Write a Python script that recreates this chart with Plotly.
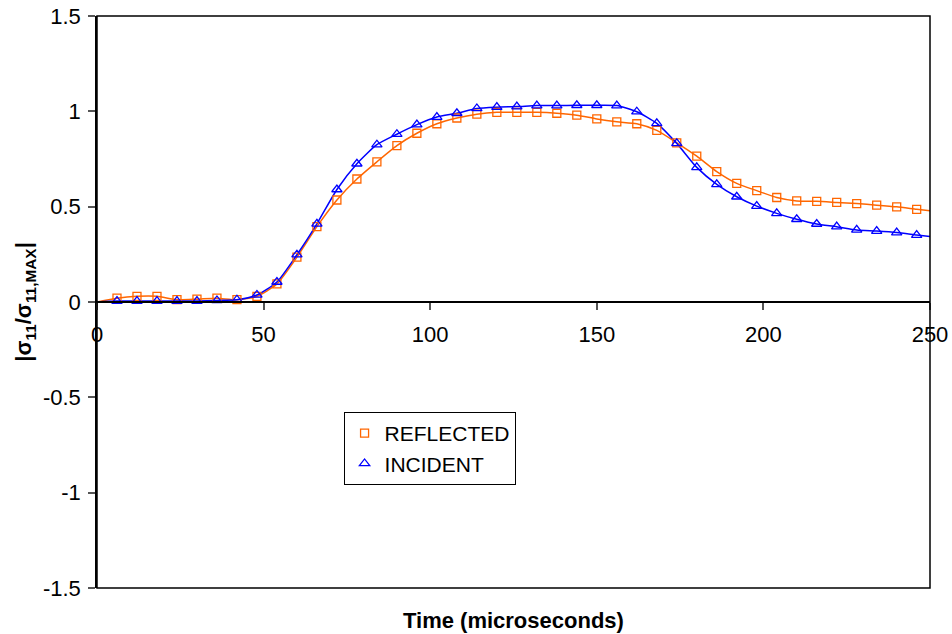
import plotly.graph_objects as go

# ---- data ----
time_markers = [6, 12, 18, 24, 30, 36, 42, 48, 54, 60, 66, 72, 78, 84, 90, 96, 102,
                108, 114, 120, 126, 132, 138, 144, 150, 156, 162, 168, 174, 180, 186,
                192, 198, 204, 210, 216, 222, 228, 234, 240, 246]

reflected = [0.02, 0.03, 0.03, 0.012, 0.015, 0.02, 0.012, 0.03, 0.095, 0.235, 0.395,
             0.535, 0.645, 0.735, 0.82, 0.885, 0.935, 0.965, 0.985, 0.995, 0.995,
             0.995, 0.99, 0.98, 0.96, 0.945, 0.935, 0.90, 0.835, 0.765, 0.684,
             0.622, 0.584, 0.548, 0.53, 0.528, 0.522, 0.516, 0.508, 0.499, 0.486]

incident = [0.005, 0.005, 0.005, 0.005, 0.005, 0.008, 0.012, 0.037, 0.105, 0.248, 0.41,
            0.59, 0.725, 0.825, 0.88, 0.93, 0.97, 0.99, 1.015, 1.022, 1.025,
            1.03, 1.03, 1.032, 1.032, 1.03, 0.998, 0.937, 0.832, 0.706, 0.617,
            0.552, 0.503, 0.465, 0.434, 0.409, 0.395, 0.378, 0.372, 0.364, 0.351]

# line traces run from t=0 to t=250
time_start, time_end = 0, 250
reflected_start, reflected_end = 0.0, 0.478
incident_start, incident_end = 0.0, 0.343

x_ticks = [0, 50, 100, 150, 200, 250]
x_tick_labels = ["0", "50", "100", "150", "200", "250"]
y_ticks = [1.5, 1.0, 0.5, 0.0, -0.5, -1.0, -1.5]
y_tick_labels = ["1.5", "1", "0.5", "0", "-0.5", "-1", "-1.5"]

ORANGE = "#FF6600"
BLUE = "#0000FF"
FONT = "Arial, Liberation Sans, sans-serif"

fig = go.Figure()

fig.add_trace(go.Scatter(
    x=[time_start] + time_markers + [time_end],
    y=[reflected_start] + reflected + [reflected_end],
    mode="lines", line=dict(color=ORANGE, width=1.5, shape="spline", smoothing=0.6),
    showlegend=False, hoverinfo="skip"))
fig.add_trace(go.Scatter(
    x=[time_start] + time_markers + [time_end],
    y=[incident_start] + incident + [incident_end],
    mode="lines", line=dict(color=BLUE, width=1.5, shape="spline", smoothing=0.6),
    showlegend=False, hoverinfo="skip"))
fig.add_trace(go.Scatter(
    x=time_markers, y=reflected, mode="markers", name="REFLECTED",
    marker=dict(symbol="square-open", size=8, color=ORANGE, line=dict(width=1.3, color=ORANGE))))
fig.add_trace(go.Scatter(
    x=time_markers, y=incident, mode="markers", name="INCIDENT",
    marker=dict(symbol="triangle-up-open", size=9, color=BLUE, line=dict(width=1.3, color=BLUE))))

fig.update_layout(
    width=952, height=634,
    margin=dict(l=97, r=22, t=16, b=46),
    paper_bgcolor="white", plot_bgcolor="white",
    font=dict(family=FONT, size=22, color="black"),
    showlegend=True,
    legend=dict(x=0.296, y=0.3077, xanchor="left", yanchor="top",
                bordercolor="black", borderwidth=1, bgcolor="white",
                font=dict(size=21, family=FONT), tracegroupgap=0),
    xaxis=dict(range=[0, 250], tickvals=x_ticks, ticktext=x_tick_labels,
               showline=True, linecolor="black", linewidth=1.5,
               ticks="outside", ticklen=7, tickcolor="#555", tickwidth=1.5,
               anchor="free", position=0.5, showgrid=False, zeroline=False,
               ticklabelstandoff=6, tickfont=dict(size=22), automargin=False),
    yaxis=dict(range=[-1.5, 1.5], tickvals=y_ticks, ticktext=y_tick_labels,
               showline=True, linecolor="black", linewidth=1.5,
               ticks="outside", ticklen=7, tickcolor="#555", tickwidth=1.5,
               showgrid=False, zeroline=False, tickfont=dict(size=22),
               ticklabelstandoff=3, automargin=False,
               title=dict(text="<b>|σ<sub>11</sub>/σ<sub>11,MAX</sub>|</b>",
                          font=dict(size=22), standoff=5)),
    shapes=[dict(type="rect", xref="paper", yref="paper", x0=0, x1=1, y0=0, y1=1,
                 line=dict(color="black", width=1.5), layer="above")],
    annotations=[dict(text="<b>Time (microseconds)</b>", xref="paper", yref="paper",
                      x=0.5, y=-0.056, xanchor="center", yanchor="middle",
                      showarrow=False, font=dict(size=22))],
)

# remove the default 8 px page margin so the figure fills the window exactly
fig.write_html("out.html",
               config={"displayModeBar": False},
               post_script="document.body.style.margin='0';document.body.style.overflow='hidden';")
